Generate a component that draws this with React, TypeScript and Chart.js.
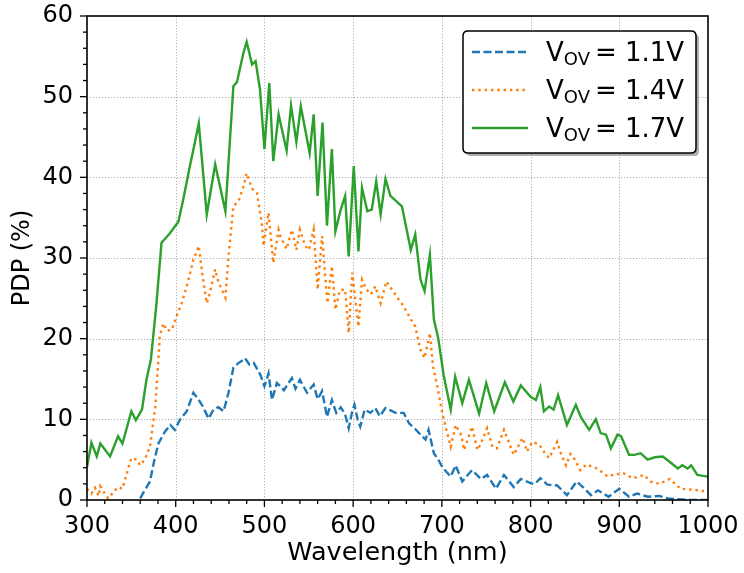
import { useEffect, useRef } from 'react';
import { Chart, registerables } from 'chart.js';

Chart.register(...registerables);

// ---------- data ----------
const wavelength17 = [300, 305, 311, 315, 326, 335, 340, 350, 355, 362, 367, 372, 378, 384, 393, 403, 408, 416, 421, 426, 435, 444.5, 456, 465, 469, 476.5, 480, 486, 490, 495, 500, 505.5, 510, 516, 525, 530, 536, 541, 551, 555.5, 560, 565.5, 570.5, 576, 580, 586, 591, 595, 600.7, 606, 610, 616, 621, 626, 631, 636.5, 642, 655, 665, 670, 676, 680.5, 686.5, 691, 696, 702, 710, 715, 723, 730.5, 742, 750, 759, 771, 780.6, 789, 800, 806, 811, 815, 821, 826, 831, 841, 851, 856.6, 866, 873.5, 879, 885, 890.5, 898, 902, 911, 917, 924, 932, 940, 949, 956, 966, 971, 977, 981, 988, 1000];
const pdp17 = [4.1, 7.1, 5.4, 7.0, 5.4, 7.9, 7.0, 11.0, 9.9, 11.2, 14.9, 17.4, 24.0, 31.9, 33.0, 34.5, 37.0, 41.4, 44.0, 46.7, 35.4, 41.6, 35.8, 51.3, 51.8, 55.5, 56.8, 54.0, 54.4, 50.9, 43.5, 51.7, 42.0, 47.8, 43.3, 48.9, 44.4, 48.8, 43.0, 47.8, 37.7, 46.8, 34.0, 43.5, 33.3, 36.0, 37.7, 30.2, 41.4, 30.8, 38.7, 35.8, 36.0, 39.5, 35.4, 39.8, 37.7, 36.4, 31.0, 32.9, 27.3, 25.9, 30.4, 22.4, 20.0, 15.5, 11.2, 15.3, 12.0, 14.9, 10.7, 14.5, 11.0, 14.6, 12.2, 14.2, 12.8, 12.4, 14.0, 11.0, 11.6, 11.2, 13.0, 9.3, 11.8, 10.3, 8.7, 10.0, 8.3, 8.1, 6.4, 8.1, 7.9, 5.6, 5.6, 5.8, 5.0, 5.3, 5.4, 4.8, 3.9, 4.3, 3.9, 4.3, 3.1, 2.9];

const wavelength14 = [300, 305, 309, 313, 315, 320, 324, 330, 335, 340, 347, 350, 356, 360, 365, 371, 377, 380.5, 382, 386, 390, 395.6, 401, 407, 412.5, 420, 426, 430, 435, 438, 444.5, 448, 452, 456, 459.5, 465, 471, 476.5, 480, 486, 491.5, 497, 499, 504.6, 510, 516, 518, 525, 531, 536, 540, 546, 550, 555.5, 560, 565, 571, 576, 580, 585, 591, 595, 599, 606, 610, 615, 620, 625, 631, 637.5, 646, 657, 665, 670, 676, 680.5, 686.5, 690, 695, 700.5, 706, 710, 715.5, 722, 725, 734, 740, 744, 751, 757, 762, 770, 776, 781, 791, 796, 802, 809.5, 815, 821, 830, 835, 840, 845, 850, 856, 863, 873, 880, 887, 896, 905, 915, 928, 935, 945, 957, 969, 980, 990, 1000];
const pdp14 = [1.4, 0.8, 1.5, 0.5, 1.7, 0.8, 0.2, 1.0, 1.6, 1.4, 4.1, 5.2, 5.0, 4.3, 5.0, 6.6, 11.6, 17.4, 20.3, 21.9, 21.0, 21.1, 22.8, 24.5, 26.5, 29.8, 31.5, 28.0, 24.4, 25.5, 28.6, 27.0, 26.1, 25.1, 30.2, 36.4, 37.1, 38.9, 40.5, 38.6, 38.1, 34.4, 31.5, 35.6, 29.4, 33.5, 32.7, 31.1, 33.5, 31.0, 33.5, 31.5, 31.0, 33.5, 26.1, 32.7, 24.4, 29.0, 23.6, 26.0, 26.1, 20.7, 28.2, 21.5, 27.3, 26.1, 25.5, 26.5, 24.4, 27.1, 25.7, 24.0, 22.4, 21.5, 18.6, 17.6, 20.7, 16.6, 14.0, 10.8, 8.3, 6.6, 9.3, 8.0, 6.2, 9.1, 6.2, 7.0, 8.9, 6.6, 6.4, 8.7, 7.0, 5.6, 7.7, 6.0, 7.2, 6.9, 6.0, 5.2, 7.2, 5.5, 4.3, 5.7, 5.0, 3.7, 4.4, 4.0, 3.5, 2.9, 3.2, 3.3, 2.7, 3.1, 2.3, 2.0, 2.6, 1.4, 1.3, 1.2, 1.0];

const wavelength11 = [360, 365, 371, 376, 380.5, 388, 394, 399, 405, 412.5, 420, 426, 431, 437, 442.6, 448, 454, 459.5, 465, 471, 476.5, 478, 483, 488, 492, 495.5, 500, 504.6, 508.5, 514, 518, 522, 527, 531, 535, 540, 548, 555.5, 560, 565, 570.5, 576, 581, 586, 591, 595, 599, 601.5, 605, 608, 613, 619.5, 625, 630, 636.5, 648, 657, 663, 670, 676, 681.6, 685, 691, 696, 700.5, 705, 710, 715.5, 723, 734, 744, 751, 761, 770, 781, 789, 800, 805, 811, 819, 830, 841, 852, 860, 868, 876, 888, 900, 911, 920, 932, 945, 955, 965, 980, 1000];
const pdp11 = [0.2, 1.2, 2.3, 5.0, 7.0, 8.5, 9.3, 8.7, 10.0, 11.0, 13.3, 12.4, 11.5, 10.1, 11.2, 11.5, 11.0, 13.3, 16.4, 17.0, 17.4, 17.6, 16.8, 17.0, 16.2, 15.5, 14.1, 15.7, 12.4, 14.5, 14.1, 13.6, 14.5, 15.1, 13.8, 14.9, 13.3, 14.3, 12.5, 13.5, 10.3, 12.4, 10.8, 11.5, 10.6, 8.9, 11.0, 11.8, 10.0, 9.1, 11.2, 10.8, 11.4, 10.4, 11.4, 10.8, 10.8, 9.5, 8.8, 8.1, 7.5, 8.7, 5.8, 5.0, 4.1, 3.5, 2.9, 4.3, 2.3, 3.7, 2.6, 3.1, 1.4, 3.1, 1.6, 2.6, 2.1, 2.0, 2.7, 1.9, 1.8, 0.6, 2.3, 1.5, 0.6, 1.2, 0.4, 1.4, 0.4, 0.8, 0.4, 0.5, 0.2, 0.1, 0.0, 0.0];

const xTicks = [300, 400, 500, 600, 700, 800, 900, 1000];
const yTicks = [0, 10, 20, 30, 40, 50, 60];
const seriesLabels = ['1.1V', '1.4V', '1.7V'];
const seriesColors = ['#1f77b4', '#ff7f0e', '#2ca02c'];
const seriesDashes: number[][] = [[8, 3.5], [2.5, 3.8], []];

const FONT = '"DejaVu Sans", "Liberation Sans", sans-serif';

const toPoints = (xs: number[], ys: number[]) => xs.map((x, i) => ({ x, y: ys[i] }));

const decor = {
  id: 'decor',
  beforeDatasetsDraw(chart: any) {
    const { ctx, chartArea: a, scales } = chart;
    const x = scales.x, y = scales.y;
    ctx.save();
    ctx.strokeStyle = '#b0b0b0';
    ctx.lineWidth = 1;
    ctx.setLineDash([1.2, 1.8]);
    for (const t of xTicks) {
      const px = Math.round(x.getPixelForValue(t)) + 0.5;
      if (px < a.left + 2 || px > a.right - 2) continue;
      ctx.beginPath();
      ctx.moveTo(px, a.top);
      ctx.lineTo(px, a.bottom);
      ctx.stroke();
    }
    for (const t of yTicks) {
      const py = Math.round(y.getPixelForValue(t)) + 0.5;
      if (py < a.top + 2 || py > a.bottom - 2) continue;
      ctx.beginPath();
      ctx.moveTo(a.left, py);
      ctx.lineTo(a.right, py);
      ctx.stroke();
    }
    ctx.restore();
  },
  afterDraw(chart: any) {
    const { ctx, chartArea: a, scales } = chart;
    const x = scales.x, y = scales.y;
    ctx.save();
    ctx.setLineDash([]);
    ctx.strokeStyle = '#000';
    // ticks
    ctx.lineWidth = 1.3;
    for (let v = 300; v <= 1000; v += 20) {
      const px = x.getPixelForValue(v);
      const major = v % 100 === 0;
      ctx.beginPath();
      ctx.moveTo(px, a.bottom);
      ctx.lineTo(px, a.bottom + (major ? 7 : 4));
      ctx.stroke();
    }
    for (let v = 0; v <= 60; v += 2) {
      const py = y.getPixelForValue(v);
      const major = v % 10 === 0;
      ctx.beginPath();
      ctx.moveTo(a.left, py);
      ctx.lineTo(a.left - (major ? 7 : 4), py);
      ctx.stroke();
    }
    // spines
    ctx.lineWidth = 1.6;
    ctx.strokeRect(a.left, a.top, a.right - a.left, a.bottom - a.top);

    // legend
    const bx = 463, by = 31, bw = 233, bh = 122, r = 5;
    const rr = (ox: number, oy: number) => {
      ctx.beginPath();
      ctx.moveTo(ox + r, oy);
      ctx.lineTo(ox + bw - r, oy);
      ctx.quadraticCurveTo(ox + bw, oy, ox + bw, oy + r);
      ctx.lineTo(ox + bw, oy + bh - r);
      ctx.quadraticCurveTo(ox + bw, oy + bh, ox + bw - r, oy + bh);
      ctx.lineTo(ox + r, oy + bh);
      ctx.quadraticCurveTo(ox, oy + bh, ox, oy + bh - r);
      ctx.lineTo(ox, oy + r);
      ctx.quadraticCurveTo(ox, oy, ox + r, oy);
      ctx.closePath();
    };
    rr(bx + 3, by + 3);
    ctx.fillStyle = 'rgba(120,120,120,0.6)';
    ctx.fill();
    rr(bx, by);
    ctx.fillStyle = '#fff';
    ctx.fill();
    ctx.lineWidth = 1.5;
    ctx.strokeStyle = '#000';
    ctx.stroke();

    const rows = [52, 90, 128];
    seriesLabels.forEach((lab, i) => {
      const ry = rows[i];
      ctx.strokeStyle = seriesColors[i];
      ctx.lineWidth = 2.4;
      ctx.setLineDash(seriesDashes[i]);
      ctx.beginPath();
      ctx.moveTo(472, ry);
      ctx.lineTo(528, ry);
      ctx.stroke();
      ctx.setLineDash([]);
      ctx.fillStyle = '#000';
      ctx.textBaseline = 'alphabetic';
      ctx.textAlign = 'left';
      const base = ry + 9;
      let tx = 546;
      ctx.font = `26px ${FONT}`;
      ctx.fillText('V', tx, base);
      tx += ctx.measureText('V').width;
      ctx.font = `18px ${FONT}`;
      ctx.fillText('OV', tx, base + 4);
      tx += ctx.measureText('OV').width + 5;
      ctx.font = `26px ${FONT}`;
      ctx.fillText('= ' + lab, tx, base);
    });
    ctx.restore();
  },
};

const zeroPad = (s: any) => {
  s.paddingTop = 0;
  s.paddingBottom = 0;
  s.paddingLeft = 0;
  s.paddingRight = 0;
};

export default function App() {
  const ref = useRef<HTMLCanvasElement>(null);
  useEffect(() => {
    if (!ref.current) return;
    const mk = (i: number, xs: number[], ys: number[]) => ({
      label: 'VOV = ' + seriesLabels[i],
      data: toPoints(xs, ys),
      borderColor: seriesColors[i],
      backgroundColor: seriesColors[i],
      borderWidth: 2.4,
      borderDash: seriesDashes[i],
      pointRadius: 0,
      tension: 0,
      fill: false,
    });
    const chart = new Chart(ref.current, {
      type: 'line',
      data: {
        datasets: [
          mk(0, wavelength11, pdp11),
          mk(1, wavelength14, pdp14),
          mk(2, wavelength17, pdp17),
        ],
      },
      options: {
        responsive: false,
        animation: false,
        devicePixelRatio: 1,
        layout: { padding: { top: 16, right: 36, left: 0, bottom: 0 } },
        plugins: { legend: { display: false }, tooltip: { enabled: false } },
        scales: {
          x: {
            type: 'linear',
            min: 300,
            max: 1000,
            afterFit: (s: any) => { s.height = 73; zeroPad(s); },
            afterBuildTicks: (s: any) => { s.ticks = xTicks.map((v) => ({ value: v })); },
            grid: { display: false, drawTicks: false },
            border: { display: false },
            ticks: { color: '#000', font: { family: FONT, size: 24 }, padding: 12, maxRotation: 0, autoSkip: false, callback: (v: any) => String(v) },
            title: { display: true, text: 'Wavelength (nm)', color: '#000', font: { family: FONT, size: 25.5 }, padding: { top: 0, bottom: 4 } },
          },
          y: {
            type: 'linear',
            min: 0,
            max: 60,
            afterFit: (s: any) => { s.width = 87; zeroPad(s); },
            afterBuildTicks: (s: any) => { s.ticks = yTicks.map((v) => ({ value: v })); },
            grid: { display: false, drawTicks: false },
            border: { display: false },
            ticks: { color: '#000', font: { family: FONT, size: 24 }, padding: 14, autoSkip: false, callback: (v: any) => String(v) },
            title: { display: true, text: 'PDP (%)', color: '#000', font: { family: FONT, size: 24 }, padding: { top: 8, bottom: 0 } },
          },
        },
      },
      plugins: [decor],
    } as any);
    return () => chart.destroy();
  }, []);
  return (
    <div style={{ position: 'fixed', left: 0, top: 0, width: 744, height: 573, background: '#fff' }}>
      <canvas ref={ref} width={744} height={573} style={{ width: 744, height: 573, display: 'block' }} />
    </div>
  );
}
